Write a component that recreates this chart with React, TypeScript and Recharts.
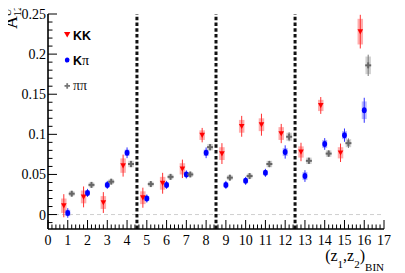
import React from 'react';
import { ScatterChart, Scatter, XAxis, YAxis, ErrorBar, ReferenceLine, Legend } from 'recharts';

// ---- data ----
const bins = [1, 2, 3, 4, 5, 6, 7, 8, 9, 10, 11, 12, 13, 14, 15, 16];

const kkValues = [0.011, 0.022, 0.015, 0.061, 0.021, 0.039, 0.057, 0.099, 0.076, 0.110, 0.112, 0.101, 0.078, 0.136, 0.077, 0.228];
const kkStat = [0.0144, 0.013, 0.013, 0.0137, 0.0125, 0.013, 0.0115, 0.009, 0.013, 0.013, 0.0137, 0.012, 0.0115, 0.0105, 0.0115, 0.021];
const kkSys = [0.009, 0.008, 0.008, 0.009, 0.008, 0.008, 0.007, 0.006, 0.008, 0.008, 0.008, 0.008, 0.007, 0.007, 0.007, 0.016];

const kpiValues = [0.002, 0.027, 0.037, 0.077, 0.020, 0.037, 0.050, 0.077, 0.037, 0.042, 0.052, 0.078, 0.048, 0.088, 0.099, 0.130];
const kpiStat = [0.006, 0.005, 0.005, 0.0067, 0.005, 0.005, 0.005, 0.0067, 0.005, 0.005, 0.005, 0.0083, 0.0073, 0.0073, 0.0083, 0.0156];
const kpiSys = [0.004, 0.003, 0.003, 0.004, 0.003, 0.003, 0.003, 0.004, 0.003, 0.003, 0.003, 0.005, 0.005, 0.005, 0.005, 0.011];

const pipiValues = [0.026, 0.037, 0.041, 0.063, 0.038, 0.047, 0.050, 0.084, 0.046, 0.048, 0.063, 0.097, 0.067, 0.076, 0.089, 0.186];
const pipiStat = [0.003, 0.003, 0.003, 0.004, 0.003, 0.003, 0.003, 0.004, 0.003, 0.003, 0.004, 0.0056, 0.004, 0.004, 0.006, 0.0133];
const pipiSys = [0.003, 0.003, 0.003, 0.004, 0.003, 0.003, 0.003, 0.004, 0.003, 0.003, 0.004, 0.005, 0.004, 0.004, 0.005, 0.011];

const seriesOffsets = [-0.2, 0, 0.2];

const xMajorTicks = [0, 1, 2, 3, 4, 5, 6, 7, 8, 9, 10, 11, 12, 13, 14, 15, 16, 17];
const yMajorTicks = [0, 0.05, 0.1, 0.15, 0.2, 0.25];
const yTickLabels = ['0', '0.05', '0.1', '0.15', '0.2', '0.25'];
const binBoundaries = [4.5, 8.5, 12.5];

const xDomain = [0, 17];
const yDomain = [-0.018, 0.25];

// ---- derived tables ----
const build = (vals: number[], stat: number[], sys: number[], off: number) =>
  bins.map((b, i) => ({ x: b + off, y: vals[i], stat: stat[i], sys: sys[i] }));

const kkData = build(kkValues, kkStat, kkSys, seriesOffsets[0]);
const kpiData = build(kpiValues, kpiStat, kpiSys, seriesOffsets[1]);
const pipiData = build(pipiValues, pipiStat, pipiSys, seriesOffsets[2]);

const xAllTicks: number[] = [];
for (let i = 0; i <= 85; i++) xAllTicks.push(Math.round(i * 20) / 100);
const yAllTicks: number[] = [];
for (let i = -1; i <= 25; i++) yAllTicks.push(Math.round(i) / 100);

const serif = '"Liberation Serif", "DejaVu Serif", serif';
const sans = '"Liberation Sans", Arial, sans-serif';

const isMajorX = (v: number) => xMajorTicks.some((t) => Math.abs(t - v) < 1e-6);
const yLabelOf = (v: number) => {
  const idx = yMajorTicks.findIndex((t) => Math.abs(t - v) < 1e-6);
  return idx >= 0 ? yTickLabels[idx] : null;
};

const BottomTick = (props: any) => {
  const { x, y, payload } = props;
  const major = isMajorX(payload.value);
  return (
    <g>
      <line x1={x} y1={y} x2={x} y2={y - (major ? 9 : 4.5)} stroke="#000" strokeWidth={1} />
      {major && (
        <text x={x} y={y + 16} textAnchor="middle" fontFamily={serif} fontSize={14} fill="#000">
          {payload.value}
        </text>
      )}
    </g>
  );
};

const TopTick = (props: any) => {
  const { x, y, payload } = props;
  const major = isMajorX(payload.value);
  return <line x1={x} y1={y} x2={x} y2={y + (major ? 9 : 4.5)} stroke="#000" strokeWidth={1} />;
};

const LeftTick = (props: any) => {
  const { x, y, payload } = props;
  const label = yLabelOf(payload.value);
  return (
    <g>
      <line x1={x} y1={y} x2={x + (label ? 9 : 4.5)} y2={y} stroke="#000" strokeWidth={1} />
      {label && (
        <text x={x - 2} y={y + 5} textAnchor="end" fontFamily={serif} fontSize={14} fill="#000">
          {label}
        </text>
      )}
    </g>
  );
};

const RightTick = (props: any) => {
  const { x, y, payload } = props;
  const label = yLabelOf(payload.value);
  return <line x1={x} y1={y} x2={x - (label ? 9 : 4.5)} y2={y} stroke="#000" strokeWidth={1} />;
};

const TriangleDown = (props: any) => {
  const { cx, cy } = props;
  if (cx == null || cy == null) return null;
  return <polygon points={`${cx - 2.8},${cy - 2.4} ${cx + 2.8},${cy - 2.4} ${cx},${cy + 2.8}`} fill="#ff0000" />;
};

const Dot = (props: any) => {
  const { cx, cy } = props;
  if (cx == null || cy == null) return null;
  return <ellipse cx={cx} cy={cy} rx={2.4} ry={3} fill="#0000ff" />;
};

const Cross = (props: any) => {
  const { cx, cy } = props;
  if (cx == null || cy == null) return null;
  return (
    <g>
      <rect x={cx - 3} y={cy - 1} width={6} height={2} fill="#666" />
      <rect x={cx - 1} y={cy - 3} width={2} height={6} fill="#666" />
    </g>
  );
};

const LegendBox = () => (
  <svg width={120} height={100} style={{ display: 'block' }}>
    <polygon points="64,32 70.4,32 67.2,37.6" fill="#ff0000" />
    <text x={73} y={39.5} fontFamily={sans} fontWeight="bold" fontSize={12.5} fill="#000">KK</text>
    <ellipse cx={67.2} cy={60} rx={2.3} ry={2.6} fill="#0000ff" />
    <text x={73} y={65} fontFamily={sans} fontWeight="bold" fontSize={12.5} fill="#000">
      K<tspan fontFamily={serif} fontWeight="normal" fontSize={14}>π</tspan>
    </text>
    <rect x={64.5} y={85} width={5.5} height={1.8} fill="#777" />
    <rect x={66.3} y={83.2} width={1.8} height={5.5} fill="#777" />
    <text x={73} y={90} fontFamily={serif} fontSize={14} fill="#222">ππ</text>
  </svg>
);

const XTitle = () => (
  <text x={384} y={261} textAnchor="end" fontFamily={serif} fontSize={16} fill="#000">
    (z<tspan dy={7} fontSize={11}>1</tspan>
    <tspan dy={-7}>,z</tspan>
    <tspan dy={7} fontSize={11}>2</tspan>
    <tspan dy={-7}>)</tspan>
    <tspan dy={10} fontSize={11}>BIN</tspan>
  </text>
);

const YTitle = () => (
  <g transform="translate(17,29) rotate(-90)" fontFamily={serif} fill="#000">
    <text x={0} y={0} fontSize={18}>A</text>
    <text x={12.5} y={-6} fontSize={11}>UL</text>
    <text x={12.5} y={4} fontSize={11}>12</text>
  </g>
);

export default function App() {
  return (
    <div style={{ marginLeft: -8, marginTop: -8, width: 405, height: 273, background: '#fff' }}>
      <ScatterChart width={405} height={273} margin={{ top: 14, right: 21, bottom: 0, left: 0 }}>
        <XAxis
          xAxisId="b"
          type="number"
          dataKey="x"
          domain={xDomain}
          allowDataOverflow
          ticks={xAllTicks}
          interval={0}
          tick={<BottomTick />}
          tickLine={false}
          tickSize={0}
          tickMargin={0}
          height={44}
          axisLine={{ stroke: '#000', strokeWidth: 1.6 }}
          label={{ content: () => <XTitle /> }}
        />
        <XAxis
          xAxisId="t"
          orientation="top"
          type="number"
          dataKey="x"
          domain={xDomain}
          allowDataOverflow
          ticks={xAllTicks}
          interval={0}
          tick={<TopTick />}
          tickLine={false}
          tickSize={0}
          tickMargin={0}
          height={0}
          axisLine={{ stroke: '#000', strokeWidth: 1.6 }}
        />
        <YAxis
          yAxisId="l"
          type="number"
          dataKey="y"
          domain={yDomain}
          allowDataOverflow
          ticks={yAllTicks}
          interval={0}
          tick={<LeftTick />}
          tickLine={false}
          tickSize={0}
          tickMargin={0}
          width={48}
          axisLine={{ stroke: '#000', strokeWidth: 1.6 }}
          label={{ content: () => <YTitle /> }}
        />
        <YAxis
          yAxisId="r"
          orientation="right"
          type="number"
          dataKey="y"
          domain={yDomain}
          allowDataOverflow
          ticks={yAllTicks}
          interval={0}
          tick={<RightTick />}
          tickLine={false}
          tickSize={0}
          tickMargin={0}
          width={0}
          axisLine={{ stroke: '#000', strokeWidth: 1.6 }}
        />
        <ReferenceLine xAxisId="b" yAxisId="l" y={0} stroke="#cfcfcf" strokeDasharray="4 3" strokeWidth={1} />
        {binBoundaries.map((b) => (
          <ReferenceLine key={b} xAxisId="b" yAxisId="l" x={b} stroke="#111" strokeWidth={3} strokeDasharray="3.5 2.3" />
        ))}
        <Legend
          layout="horizontal"
          verticalAlign="middle"
          align="center"
          content={() => <LegendBox />}
          wrapperStyle={{ position: 'absolute', left: 0, top: 0, width: 120, height: 100 }}
        />
        <Scatter xAxisId="b" yAxisId="l" name="KK" data={kkData} shape={<TriangleDown />} isAnimationActive={false}>
          <ErrorBar dataKey="sys" direction="y" width={0} stroke="rgba(255,0,0,0.32)" strokeWidth={5.5} isAnimationActive={false} />
          <ErrorBar dataKey="stat" direction="y" width={0} stroke="#ff3030" strokeWidth={1} isAnimationActive={false} />
        </Scatter>
        <Scatter xAxisId="b" yAxisId="l" name="Kπ" data={kpiData} shape={<Dot />} isAnimationActive={false}>
          <ErrorBar dataKey="sys" direction="y" width={0} stroke="rgba(0,0,255,0.28)" strokeWidth={5} isAnimationActive={false} />
          <ErrorBar dataKey="stat" direction="y" width={0} stroke="#3030ff" strokeWidth={1} isAnimationActive={false} />
        </Scatter>
        <Scatter xAxisId="b" yAxisId="l" name="ππ" data={pipiData} shape={<Cross />} isAnimationActive={false}>
          <ErrorBar dataKey="sys" direction="y" width={0} stroke="rgba(100,100,100,0.3)" strokeWidth={5.5} isAnimationActive={false} />
          <ErrorBar dataKey="stat" direction="y" width={0} stroke="#777" strokeWidth={1} isAnimationActive={false} />
        </Scatter>
      </ScatterChart>
    </div>
  );
}
